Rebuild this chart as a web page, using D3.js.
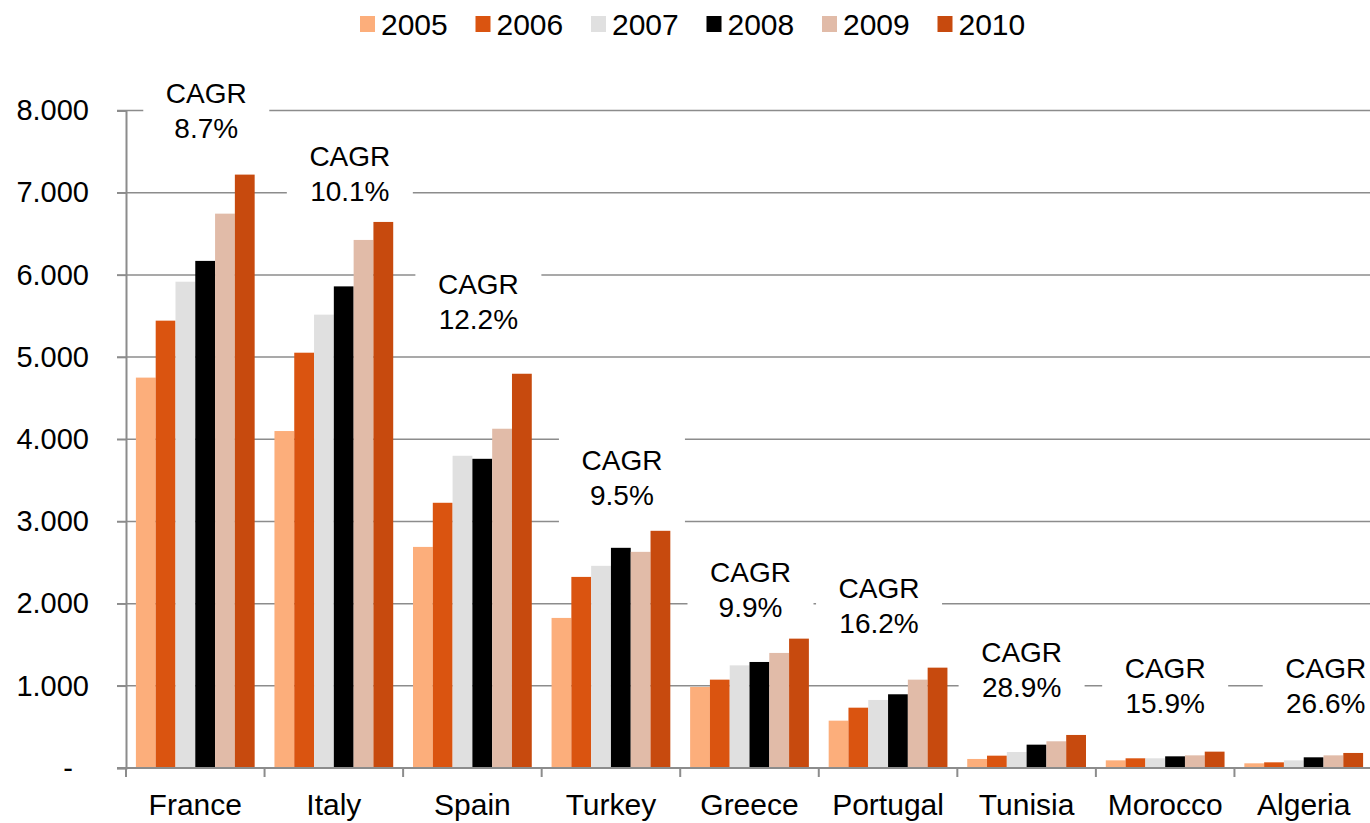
<!DOCTYPE html>
<html>
<head>
<meta charset="utf-8">
<script src="https://cdn.jsdelivr.net/npm/d3@7"></script>
<style>
  body { margin: 0; background: #fff; }
  svg { display: block; font-family: "Liberation Sans", Arial, sans-serif; }
</style>
</head>
<body>
<div id="chart"></div>
<script>
var categories = ['France', 'Italy', 'Spain', 'Turkey', 'Greece', 'Portugal', 'Tunisia', 'Morocco', 'Algeria'];
var years = ['2005', '2006', '2007', '2008', '2009', '2010'];

var v2005 = [4750, 4100, 2690, 1826, 986, 576, 110, 93, 57];
var v2006 = [5443, 5053, 3227, 2325, 1075, 734, 150, 118, 69];
var v2007 = [5917, 5516, 3799, 2460, 1249, 828, 195, 118, 93];
var v2008 = [6170, 5860, 3762, 2679, 1290, 897, 284, 142, 130];
var v2009 = [6745, 6425, 4128, 2630, 1400, 1075, 325, 154, 154];
var v2010 = [7220, 6644, 4797, 2886, 1574, 1221, 402, 199, 183];
var series = [v2005, v2006, v2007, v2008, v2009, v2010];

var cagr = ['8.7%', '10.1%', '12.2%', '9.5%', '9.9%', '16.2%', '28.9%', '15.9%', '26.6%'];
var yTicks = [0, 1000, 2000, 3000, 4000, 5000, 6000, 7000, 8000];

// where the CAGR boxes sit: px shift from the band centre, first baseline in value units
var cagrDx = [11, 16, 6, 11, 1, -9, -5, 0, 22];
var cagrAt = [8095, 7325, 5764, 3626, 2263, 2068, 1290, 1095, 1095];

var colors = ['#fcae7b', '#da5410', '#e0e0e0', '#000000', '#e1bba8', '#c74a0e'];

var width = 1370, height = 823;

var y = d3.scaleLinear()
    .domain([0, 8000])
    .range([768, 110.5]);

var x = d3.scaleBand()
    .domain(categories)
    .range([126, 1373]);

var x1 = d3.scaleBand()
    .domain(years)
    .range([0, x.bandwidth()])
    .paddingInner(0)
    .paddingOuter(0.5);

var svg = d3.select('#chart').append('svg')
    .attr('width', width)
    .attr('height', height);

// gridlines
svg.append('g')
  .selectAll('line').data(yTicks.filter(function(d) { return d > 0; }))
  .enter().append('line')
    .attr('x1', 117)
    .attr('x2', width)
    .attr('y1', function(d) { return y(d); })
    .attr('y2', function(d) { return y(d); })
    .style('stroke', '#8c8c8c')
    .style('stroke-width', 1.5);

// white boxes behind CAGR labels
var lineGap = 35;
svg.append('g')
  .selectAll('rect').data(cagr)
  .enter().append('rect')
    .attr('x', function(d, i) { return x(categories[i]) + x.bandwidth() / 2 + cagrDx[i] - 63; })
    .attr('y', function(d, i) { return y(cagrAt[i]) - 36; })
    .attr('width', 126)
    .attr('height', 36 + lineGap + 20)
    .style('fill', '#fff');

// bars
var groups = svg.append('g')
  .selectAll('g').data(years)
  .enter().append('g')
    .style('fill', function(d, i) { return colors[i]; });

groups.selectAll('rect')
  .data(function(d, i) {
    return series[i].map(function(v, j) { return { cat: categories[j], year: d, value: v }; });
  })
  .enter().append('rect')
    .attr('x', function(d) { return x(d.cat) + x1(d.year); })
    .attr('y', function(d) { return y(d.value); })
    .attr('width', x1.bandwidth())
    .attr('height', function(d) { return y(0) - y(d.value); });

// CAGR labels
var labels = svg.append('g')
  .selectAll('text').data(cagr)
  .enter().append('text')
    .attr('text-anchor', 'middle')
    .style('font-size', '28px')
    .style('fill', '#000');

labels.append('tspan')
    .attr('x', function(d, i) { return x(categories[i]) + x.bandwidth() / 2 + cagrDx[i]; })
    .attr('y', function(d, i) { return y(cagrAt[i]); })
    .text('CAGR');

labels.append('tspan')
    .attr('x', function(d, i) { return x(categories[i]) + x.bandwidth() / 2 + cagrDx[i]; })
    .attr('y', function(d, i) { return y(cagrAt[i]) + lineGap; })
    .text(function(d) { return d; });

// y axis
var fmt = function(d) {
  return d === 0 ? '-' : d3.format(',')(d).replace(',', '.');
};

var yAxis = svg.append('g')
    .attr('transform', 'translate(126,0)')
    .call(d3.axisLeft(y).tickValues(yTicks).tickSize(9).tickPadding(28).tickFormat(fmt));

yAxis.select('.domain').style('stroke', '#8c8c8c').style('stroke-width', 2);
yAxis.selectAll('.tick line').style('stroke', '#8c8c8c').style('stroke-width', 1.5);
yAxis.selectAll('.tick text')
    .style('font-size', '29px')
    .style('font-family', '"Liberation Sans", Arial, sans-serif')
    .style('fill', '#000')
    .attr('dx', function(d) { return d === 0 ? -16 : 0; });

// x axis
var xAxis = svg.append('g')
    .attr('transform', 'translate(0,' + y(0) + ')');

xAxis.append('line')
    .attr('x1', 117)
    .attr('x2', width)
    .style('stroke', '#8c8c8c')
    .style('stroke-width', 2);

xAxis.selectAll('.sep').data(d3.range(categories.length + 1))
  .enter().append('line')
    .attr('class', 'sep')
    .attr('x1', function(i) { return x.range()[0] + i * x.step(); })
    .attr('x2', function(i) { return x.range()[0] + i * x.step(); })
    .attr('y1', 0)
    .attr('y2', 9)
    .style('stroke', '#8c8c8c')
    .style('stroke-width', 2);

xAxis.selectAll('.cat').data(categories)
  .enter().append('text')
    .attr('class', 'cat')
    .attr('x', function(d) { return x(d) + x.bandwidth() / 2; })
    .attr('y', 47)
    .attr('text-anchor', 'middle')
    .style('font-size', '30px')
    .style('fill', '#000')
    .text(function(d) { return d; });

// legend
var legend = svg.append('g')
  .selectAll('g').data(years)
  .enter().append('g')
    .attr('transform', function(d, i) { return 'translate(' + (360 + i * 115.5) + ',0)'; });

legend.append('rect')
    .attr('y', 16)
    .attr('width', 15)
    .attr('height', 16)
    .style('fill', function(d, i) { return colors[i]; });

legend.append('text')
    .attr('x', 21)
    .attr('y', 35)
    .style('font-size', '30px')
    .style('fill', '#000')
    .text(function(d) { return d; });
</script>
</body>
</html>
